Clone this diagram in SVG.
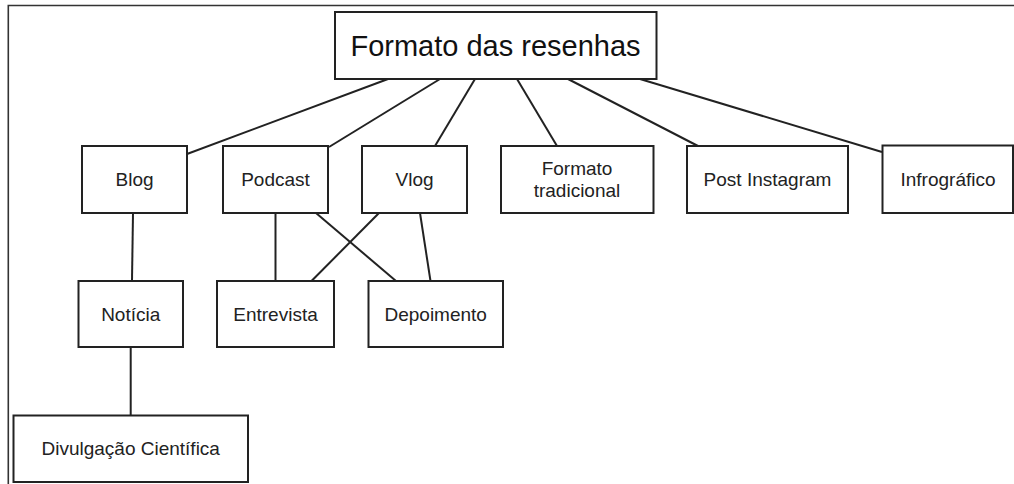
<svg xmlns="http://www.w3.org/2000/svg" width="1014" height="484" viewBox="0 0 1014 484">
<style>
.box{fill:#fff;stroke:#222;stroke-width:2}
.lbl{font-family:"Liberation Sans",Arial,sans-serif;font-size:19px;fill:#222;text-anchor:middle}
.title{font-family:"Liberation Sans",Arial,sans-serif;font-size:29px;fill:#111;text-anchor:middle}
.edge{stroke:#222;stroke-width:2;fill:none}
.frame{stroke:#333;stroke-width:1.6;fill:none}
</style>
<rect width="1014" height="484" fill="#fff"/>
<path class="frame" d="M8.3,484 V5.5 H1014"/>
<g id="connectors">
<line class="edge" x1="388" y1="79" x2="187" y2="154"/>
<line class="edge" x1="440" y1="79" x2="329" y2="147"/>
<line class="edge" x1="475" y1="79" x2="435" y2="146"/>
<line class="edge" x1="517" y1="79" x2="557" y2="146"/>
<line class="edge" x1="568" y1="79" x2="698" y2="146"/>
<line class="edge" x1="640" y1="79" x2="882" y2="152"/>
<line class="edge" x1="133" y1="213" x2="132" y2="281"/>
<line class="edge" x1="275.5" y1="213" x2="275.5" y2="281"/>
<line class="edge" x1="316" y1="213" x2="396" y2="281"/>
<line class="edge" x1="379" y1="213" x2="311.5" y2="281"/>
<line class="edge" x1="420" y1="213" x2="430.5" y2="281"/>
<line class="edge" x1="130.7" y1="347" x2="130.7" y2="416"/>
</g>
<g id="root"><rect class="box" x="335" y="12" width="321.5" height="67"/><text class="title" x="495.5" y="55.5">Formato das resenhas</text></g>
<g id="blog"><rect class="box" x="82" y="146" width="105" height="67"/><text class="lbl" x="134.5" y="186">Blog</text></g>
<g id="podcast"><rect class="box" x="223" y="146" width="105" height="67"/><text class="lbl" x="275.5" y="186">Podcast</text></g>
<g id="vlog"><rect class="box" x="362" y="146" width="105" height="67"/><text class="lbl" x="414.5" y="186">Vlog</text></g>
<g id="formato-tradicional"><rect class="box" x="501" y="146" width="152.5" height="67"/><text class="lbl" x="577" y="175">Formato</text><text class="lbl" x="577" y="197">tradicional</text></g>
<g id="post-instagram"><rect class="box" x="687" y="146" width="161" height="67"/><text class="lbl" x="767.5" y="186">Post Instagram</text></g>
<g id="infrografico"><rect class="box" x="882.5" y="145.5" width="130.5" height="67.5"/><text class="lbl" x="948" y="186">Infrográfico</text></g>
<g id="noticia"><rect class="box" x="78.5" y="281" width="104.5" height="66"/><text class="lbl" x="130.7" y="320.5">Notícia</text></g>
<g id="entrevista"><rect class="box" x="217" y="281" width="117" height="66"/><text class="lbl" x="275.5" y="320.5">Entrevista</text></g>
<g id="depoimento"><rect class="box" x="368.5" y="281" width="134.5" height="66"/><text class="lbl" x="435.7" y="320.5">Depoimento</text></g>
<g id="divulgacao"><rect class="box" x="13.5" y="415.5" width="234.5" height="66.5"/><text class="lbl" x="130.7" y="455">Divulgação Científica</text></g>
</svg>
